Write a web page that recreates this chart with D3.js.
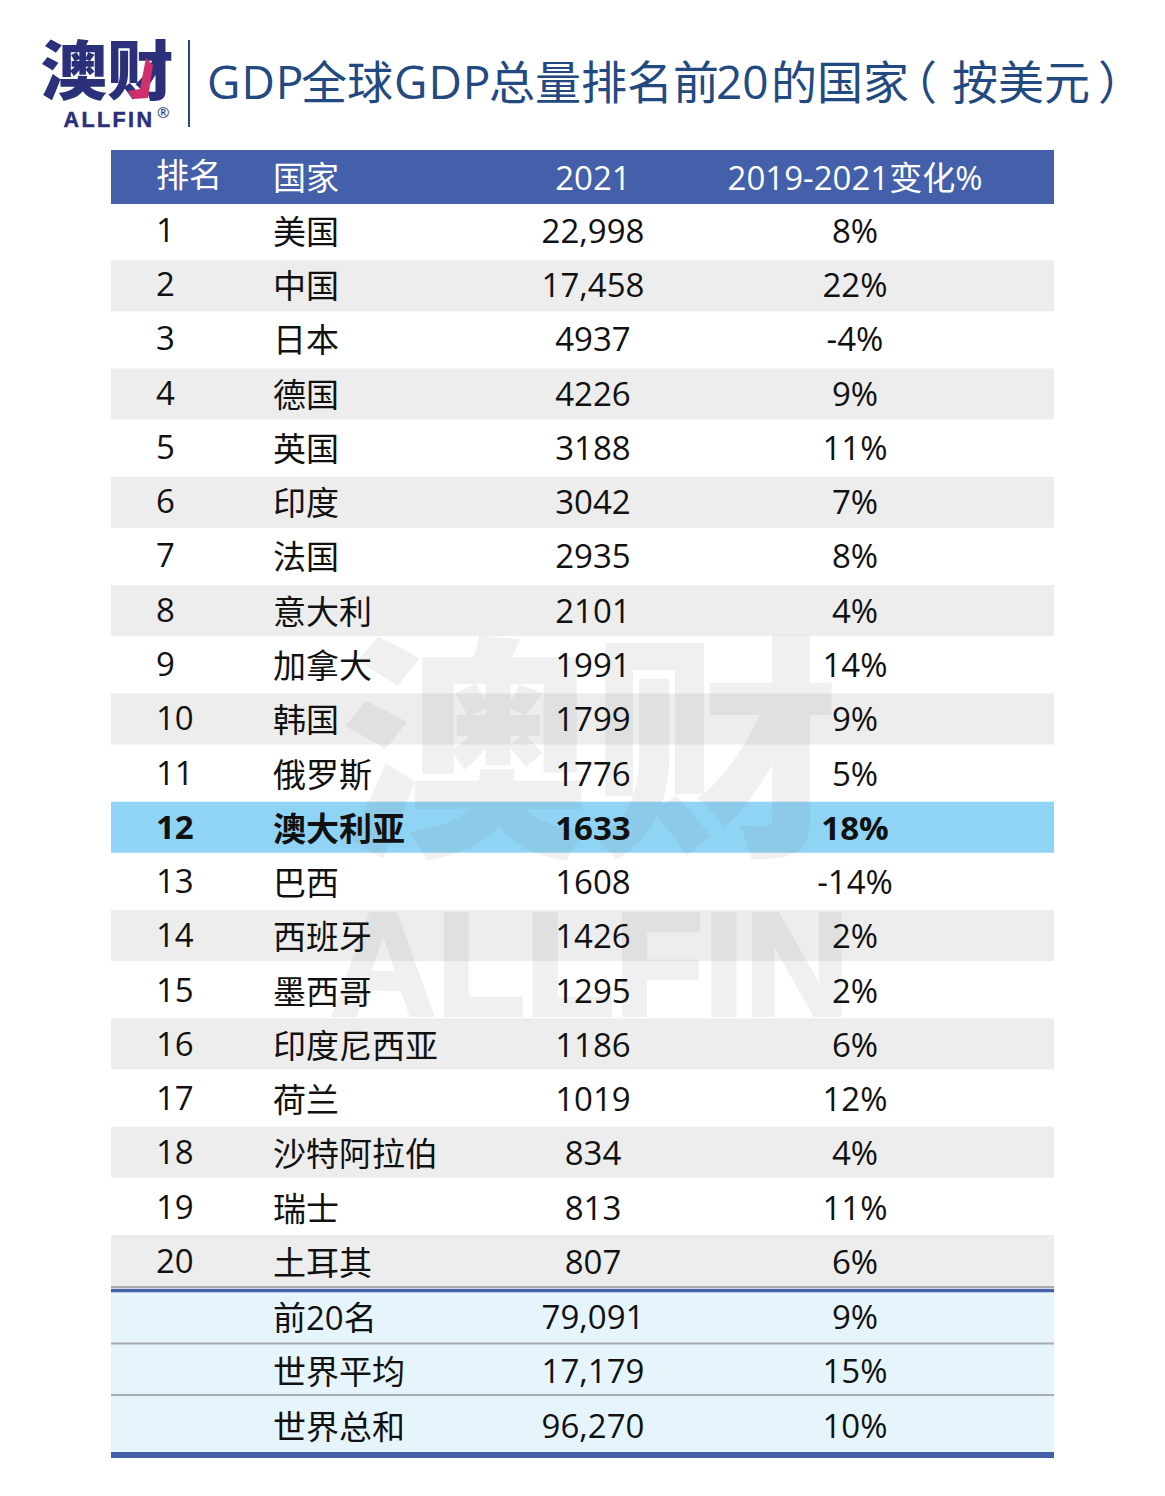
<!DOCTYPE html>
<html>
<head>
<meta charset="utf-8">
<script src="https://cdn.jsdelivr.net/npm/d3@7"></script>
<style>
  html, body { margin: 0; padding: 0; background: #fff; }
  text { font-family: "Open Sans", "Noto Sans CJK SC", sans-serif; }
</style>
</head>
<body>
<div id="chart"></div>
<script>
// table data
var headers = ['排名', '国家', '2021', '2019-2021变化%'];
var ranks = d3.range(1, 21);
var countries = ['美国', '中国', '日本', '德国', '英国', '印度', '法国', '意大利', '加拿大', '韩国',
  '俄罗斯', '澳大利亚', '巴西', '西班牙', '墨西哥', '印度尼西亚', '荷兰', '沙特阿拉伯', '瑞士', '土耳其'];
var gdp = ['22,998', '17,458', '4937', '4226', '3188', '3042', '2935', '2101', '1991', '1799',
  '1776', '1633', '1608', '1426', '1295', '1186', '1019', '834', '813', '807'];
var change = [8, 22, -4, 9, 11, 7, 8, 4, 14, 9, 5, 18, -14, 2, 2, 6, 12, 4, 11, 6];

var summaryNames = ['前20名', '世界平均', '世界总和'];
var summaryGdp = ['79,091', '17,179', '96,270'];
var summaryChange = [9, 15, 10];

var titleParts = ['GDP', '全球', 'GDP', '总量排名前', '20', '的国家', '（', '按美元', '）'];
var highlight = '澳大利亚';

var width = 1165, height = 1496;
var left = 111, right = 1054;

var svg = d3.select('#chart').append('svg')
  .attr('width', width)
  .attr('height', height)
  .style('display', 'block');

// row centres, and the top edge of each row's band
var y = d3.scalePoint().domain(ranks).range([231, 1262]);
var yBand = d3.scalePoint().domain(ranks).range([206, 1235]);
var ySum = d3.scalePoint().domain(summaryNames).range([1317, 1426]);
var colX = { rank: 156, name: 273, gdp: 593, change: 855 };

// ---- header logo
var logo = svg.append('g');
logo.append('text')
  .attr('transform', 'translate(107,94) scale(1.04,1)')
  .attr('text-anchor', 'middle')
  .style('font-family', '"Noto Sans CJK SC"')
  .style('font-weight', 900)
  .style('font-size', '64px')
  .attr('fill', '#2a3079')
  .text('澳财');
logo.append('path')
  .attr('d', 'M146 58 L153 65 L148 98 L133 99 L128 91 L140 89 Z')
  .attr('fill', '#d12f6b');
logo.append('text')
  .attr('x', 109).attr('y', 127)
  .attr('text-anchor', 'middle')
  .style('font-family', '"Liberation Sans"')
  .style('font-weight', 700)
  .style('font-size', '21.5px')
  .style('letter-spacing', '2.4px')
  .attr('fill', '#2a3079')
  .attr('stroke', '#2a3079')
  .attr('stroke-width', 0.5)
  .text('ALLFIN');
logo.append('text')
  .attr('x', 157).attr('y', 118)
  .style('font-size', '15px')
  .attr('fill', '#2a3079')
  .text('®');
svg.append('line')
  .attr('x1', 189).attr('x2', 189).attr('y1', 40).attr('y2', 127)
  .attr('stroke', '#234a80').attr('stroke-width', 2);

// title pieces sit at their own x, the latin runs are wider than the default
var titleX = [207, 301, 394, 489, 716, 771, 891, 952, 1098];
var title = svg.append('text')
  .attr('y', 99)
  .style('font-size', '46px')
  .attr('fill', '#234a80');
title.selectAll('tspan')
  .data(titleParts)
  .enter().append('tspan')
  .attr('x', function(d, i) { return titleX[i]; })
  .style('letter-spacing', function(d) { return d == 'GDP' ? '1px' : null; })
  .text(function(d) { return d; });

// ---- bands
svg.append('rect')
  .attr('x', left).attr('y', 150).attr('width', right - left).attr('height', 54)
  .attr('fill', '#4460ab');

svg.selectAll('.band')
  .data(ranks.filter(function(d) { return d % 2 == 0 || countries[d - 1] == highlight; }))
  .enter().append('rect')
  .attr('class', 'band')
  .attr('x', left)
  .attr('y', function(d) { return yBand(d); })
  .attr('width', right - left)
  .attr('height', 51)
  .attr('fill', function(d) { return countries[d - 1] == highlight ? '#8fd4f5' : '#ededed'; });

svg.append('rect')
  .attr('x', left).attr('y', 1290).attr('width', right - left).attr('height', 163)
  .attr('fill', '#e6f5fb');

// ---- watermark
var mark = svg.append('g').attr('fill', '#777').attr('opacity', 0.1);
mark.append('text')
  .attr('transform', 'translate(590,838) scale(1.06,1)')
  .attr('text-anchor', 'middle')
  .style('font-family', '"Noto Sans CJK SC"')
  .style('font-weight', 900)
  .style('font-size', '236px')
  .text('澳财');
mark.append('text')
  .attr('x', 590).attr('y', 1015)
  .attr('text-anchor', 'middle')
  .style('font-family', '"Liberation Sans"')
  .style('font-weight', 700)
  .style('font-size', '146px')
  .attr('stroke', '#777')
  .attr('stroke-width', 4)
  .text('ALLFIN');

// ---- rules
var rules = [[1287, '#a6acaf', 2], [1290.5, '#4560a9', 3.5], [1343.5, '#a6acaf', 2], [1395, '#a6acaf', 2], [1455, '#4560a9', 6]];
svg.selectAll('.rule')
  .data(rules)
  .enter().append('line')
  .attr('class', 'rule')
  .attr('x1', left).attr('x2', right)
  .attr('y1', function(d) { return d[0]; })
  .attr('y2', function(d) { return d[0]; })
  .attr('stroke', function(d) { return d[1]; })
  .attr('stroke-width', function(d) { return d[2]; });

// ---- text helper
var fontSize = '33px';
function cell(sel, x, yFn, anchor, textFn) {
  return sel.append('text')
    .attr('x', x)
    .attr('y', yFn)
    .attr('dy', '0.36em')
    .attr('text-anchor', anchor)
    .style('font-size', fontSize)
    .attr('fill', '#111')
    .text(textFn);
}

// header
var hx = [colX.rank, colX.name, colX.gdp, colX.change];
var hy = [175, 178, 178, 178];
svg.selectAll('.head')
  .data(headers)
  .enter().append('text')
  .attr('class', 'head')
  .attr('x', function(d, i) { return hx[i]; })
  .attr('y', function(d, i) { return hy[i]; })
  .attr('dy', '0.36em')
  .attr('text-anchor', function(d, i) { return i < 2 ? 'start' : 'middle'; })
  .style('font-size', fontSize)
  .attr('fill', '#fff')
  .text(function(d) { return d; });

// body rows
var rows = svg.selectAll('.row')
  .data(ranks)
  .enter().append('g')
  .attr('class', 'row')
  .style('font-weight', function(d) { return countries[d - 1] == highlight ? 700 : 400; });

cell(rows, colX.rank, function(d) { return y(d) - 1; }, 'start', function(d) { return d; });
cell(rows, colX.name, function(d) { return y(d) + 1; }, 'start', function(d) { return countries[d - 1]; });
cell(rows, colX.gdp, function(d) { return y(d); }, 'middle', function(d) { return gdp[d - 1]; });
cell(rows, colX.change, function(d) { return y(d); }, 'middle', function(d) { return change[d - 1] + '%'; });

// summary rows
var sum = svg.selectAll('.sum')
  .data(summaryNames)
  .enter().append('g')
  .attr('class', 'sum');

cell(sum, colX.name, function(d) { return ySum(d) + 1; }, 'start', function(d) { return d; });
cell(sum, colX.gdp, function(d) { return ySum(d); }, 'middle', function(d, i) { return summaryGdp[i]; });
cell(sum, colX.change, function(d) { return ySum(d); }, 'middle', function(d, i) { return summaryChange[i] + '%'; });
</script>
</body>
</html>
